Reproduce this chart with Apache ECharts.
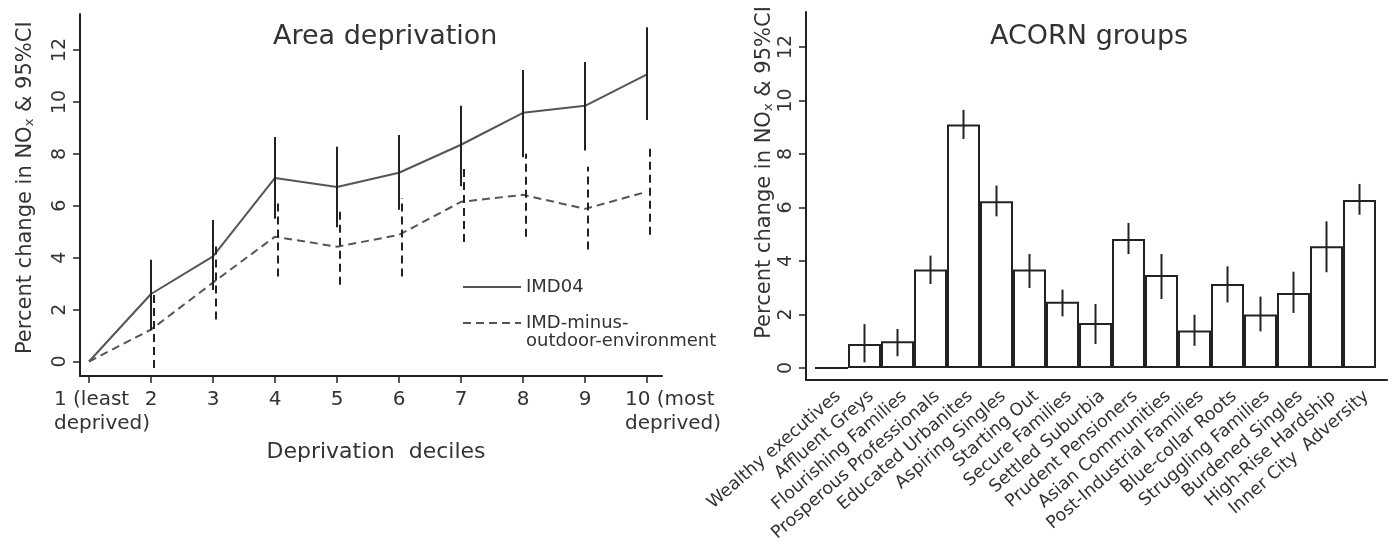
<!DOCTYPE html>
<html><head><meta charset="utf-8">
<script src="https://cdn.jsdelivr.net/npm/echarts@6/dist/echarts.min.js"></script>
<style>html,body{margin:0;padding:0;background:#fff}#c{width:1392px;height:552px}</style>
</head><body><div id="c"></div>
<script>
// ---- Left panel: Area deprivation ----
const deciles = ['1 (least\ndeprived)', '2', '3', '4', '5', '6', '7', '8', '9', '10 (most\ndeprived)'];
const imd04 = [0, 2.6, 4.05, 7.07, 6.72, 7.27, 8.35, 9.58, 9.85, 11.06];
const imd04Lo = [null, 1.2, 2.75, 5.5, 5.17, 5.85, 6.75, 7.87, 8.13, 9.3];
const imd04Hi = [null, 3.92, 5.45, 8.65, 8.27, 8.73, 9.85, 11.23, 11.54, 12.88];
const imdMinus = [0, 1.23, 3.04, 4.81, 4.42, 4.88, 6.15, 6.42, 5.88, 6.54];
const imdMinusLo = [null, -0.25, 1.62, 3.27, 2.96, 3.27, 4.6, 4.81, 4.31, 4.88];
const imdMinusHi = [null, 2.6, 4.46, 6.23, 5.96, 6.3, 7.58, 8.0, 7.5, 8.27];
const yMin = 0, yMax = 12, yStep = 2;

// ---- Right panel: ACORN groups ----
const groups = ['Wealthy executives', 'Affluent Greys', 'Flourishing Families', 'Prosperous Professionals',
  'Educated Urbanites', 'Aspiring Singles', 'Starting Out', 'Secure Families', 'Settled Suburbia',
  'Prudent Pensioners', 'Asian Communities', 'Post-Industrial Families', 'Blue-collar Roots',
  'Struggling Families', 'Burdened Singles', 'High-Rise Hardship', 'Inner City  Adversity'];
const acorn = [0, 0.9, 1.0, 3.68, 9.1, 6.23, 3.68, 2.48, 1.68, 4.82, 3.48, 1.4, 3.14, 2.0, 2.8, 4.55, 6.28];
const acornLo = [null, 0.21, 0.44, 3.14, 8.56, 5.67, 2.99, 1.93, 0.9, 4.26, 2.58, 0.83, 2.45, 1.37, 2.06, 3.58, 5.73];
const acornHi = [null, 1.64, 1.46, 4.2, 9.65, 6.82, 4.26, 2.93, 2.39, 5.42, 4.26, 1.99, 3.8, 2.67, 3.6, 5.48, 6.88];

const FF = '"DejaVu Sans", sans-serif';
const TXT = '#333';
const AX = '#222';
const yName = 'Percent change in NO{s|x} & 95%CI';

function errData(lo, hi) {
  const d = [];
  lo.forEach((l, i) => { if (l != null && hi[i] != null) d.push([i, l, hi[i]]); });
  return d;
}
function errSeries(xi, yi, data, style, dx) {
  return {
    type: 'custom', xAxisIndex: xi, yAxisIndex: yi, data: data, clip: false, silent: true, z: 5,
    encode: { x: 0, y: [1, 2] },
    renderItem: function (params, api) {
      const a = api.coord([api.value(0), api.value(1)]);
      const b = api.coord([api.value(0), api.value(2)]);
      return { type: 'line', shape: { x1: a[0] + dx, y1: a[1], x2: b[0] + dx, y2: b[1] },
        style: Object.assign({ fill: null }, style) };
    }
  };
}
function frameAxis(gi) {
  return { gridIndex: gi, type: 'value', min: 0, max: 1, axisLine: { show: true, onZero: false, lineStyle: { color: AX, width: 2 } },
    axisTick: { show: false }, axisLabel: { show: false }, splitLine: { show: false } };
}
function hiddenValue(gi, mn, mx) {
  return { gridIndex: gi, type: 'value', min: mn, max: mx, show: false, splitLine: { show: false } };
}
function hiddenCat(gi, data, gap) {
  return { gridIndex: gi, type: 'category', data: data, boundaryGap: gap, show: false };
}
function multiLine(tag) {
  return v => v.indexOf('\n') >= 0 ? v.split('\n').map(s => '{' + tag + '|' + s + '}').join('\n') : v;
}
function visibleY(gi, gap, shift) {
  return {
    gridIndex: gi, type: 'value', min: yMin, max: yMax, interval: yStep,
    axisLine: { show: false }, splitLine: { show: false },
    axisTick: { show: true, length: 7, lineStyle: { color: AX, width: 1.5 } },
    axisLabel: { rotate: 90, margin: 10, color: TXT, fontSize: 19, fontFamily: FF },
    name: yName, nameLocation: 'middle', nameGap: gap,
    nameTextStyle: { color: TXT, fontSize: 21, fontFamily: FF, padding: [0, 0, 0, shift],
      rich: { s: { fontSize: 13, fontFamily: FF, color: TXT, verticalAlign: 'bottom', padding: [8, 0, 0, 0] } } }
  };
}

const option = {
  animation: false,
  backgroundColor: '#fff',
  title: [
    { text: 'Area deprivation', left: 273, top: 23, padding: 0, textStyle: { color: TXT, fontSize: 27, fontWeight: 'normal', fontFamily: FF } },
    { text: 'ACORN groups', left: 990, top: 23, padding: 0, textStyle: { color: TXT, fontSize: 27, fontWeight: 'normal', fontFamily: FF } }
  ],
  legend: {
    orient: 'vertical', left: 462, top: 278, itemWidth: 58, itemHeight: 14, itemGap: 0, selectedMode: false, padding: 0,
    data: ['IMD04', 'IMD-minus-outdoor-environment'],
    itemStyle: { opacity: 0 },
    formatter: n => n === 'IMD04' ? n : '\nIMD-minus-\noutdoor-environment',
    textStyle: { color: TXT, fontSize: 18, lineHeight: 18, fontFamily: FF }
  },
  grid: [
    { left: 80, top: 14, width: 582, height: 362 },     // 0 left frame
    { left: 80, top: 50, width: 582, height: 311.5 },   // 1 left y ticks
    { left: 89, top: 14, width: 558, height: 362 },     // 2 left x ticks
    { left: 89, top: 50, width: 558, height: 311.5 },   // 3 left data
    { left: 806, top: 12, width: 581, height: 368 },    // 4 right frame
    { left: 806, top: 47, width: 581, height: 321 },    // 5 right y ticks
    { left: 822, top: 12, width: 561, height: 368 },    // 6 right x labels
    { left: 815, top: 47, width: 561, height: 321 }     // 7 right data
  ],
  xAxis: [
    frameAxis(0),
    hiddenValue(1, 0, 1),
    { gridIndex: 2, type: 'category', data: deciles, boundaryGap: false,
      axisLine: { show: false }, axisTick: { show: true, length: 7, lineStyle: { color: AX, width: 1.5 } },
      axisLabel: { interval: 0, margin: 12, color: TXT, fontSize: 20, fontFamily: FF, lineHeight: 24,
        formatter: (v, i) => multiLine(i === 0 ? 'a' : 'b')(v),
        rich: { a: { align: 'left', padding: [0, 0, 0, 26], fontSize: 20, lineHeight: 24, fontFamily: FF, color: TXT },
                b: { align: 'left', padding: [0, 0, 0, 52], fontSize: 20, lineHeight: 24, fontFamily: FF, color: TXT } } },
      name: 'Deprivation  deciles', nameLocation: 'middle', nameGap: 52,
      nameTextStyle: { color: TXT, fontSize: 22, fontFamily: FF, padding: [0, 0, 0, 16] } },
    hiddenCat(3, deciles, false),
    frameAxis(4),
    hiddenValue(5, 0, 1),
    { gridIndex: 6, type: 'category', data: groups, boundaryGap: true,
      axisLine: { show: false }, axisTick: { show: false },
      axisLabel: { interval: 0, rotate: 41, margin: 14, color: TXT, fontSize: 17.5, fontFamily: FF } },
    hiddenCat(7, groups, true)
  ],
  yAxis: [
    frameAxis(0),
    visibleY(1, 44, 36),
    hiddenValue(2, 0, 1),
    hiddenValue(3, yMin, yMax),
    frameAxis(4),
    visibleY(5, 31, 70),
    hiddenValue(6, 0, 1),
    hiddenValue(7, yMin, yMax)
  ],
  series: [
    { name: 'IMD04', type: 'line', xAxisIndex: 3, yAxisIndex: 3, data: imd04, symbol: 'none', clip: false,
      lineStyle: { color: '#555', width: 2 }, itemStyle: { color: '#555' }, z: 3 },
    { name: 'IMD-minus-outdoor-environment', type: 'line', xAxisIndex: 3, yAxisIndex: 3, data: imdMinus, symbol: 'none', clip: false,
      lineStyle: { color: '#555', width: 2, type: [8, 5] }, itemStyle: { color: '#555' }, z: 3 },
    errSeries(3, 3, errData(imd04Lo, imd04Hi), { stroke: AX, lineWidth: 2 }, 0),
    errSeries(3, 3, errData(imdMinusLo, imdMinusHi), { stroke: AX, lineWidth: 2, lineDash: [8, 5] }, 3),
    { name: 'ACORN', type: 'bar', xAxisIndex: 7, yAxisIndex: 7, data: acorn, barCategoryGap: '0%', clip: false,
      itemStyle: { color: '#fff', borderColor: AX, borderWidth: 2 } },
    errSeries(7, 7, errData(acornLo, acornHi), { stroke: AX, lineWidth: 2 }, 0)
  ]
};
const chart = echarts.init(document.getElementById('c'), null, { renderer: 'canvas' });
chart.setOption(option);
</script>
</body></html>
